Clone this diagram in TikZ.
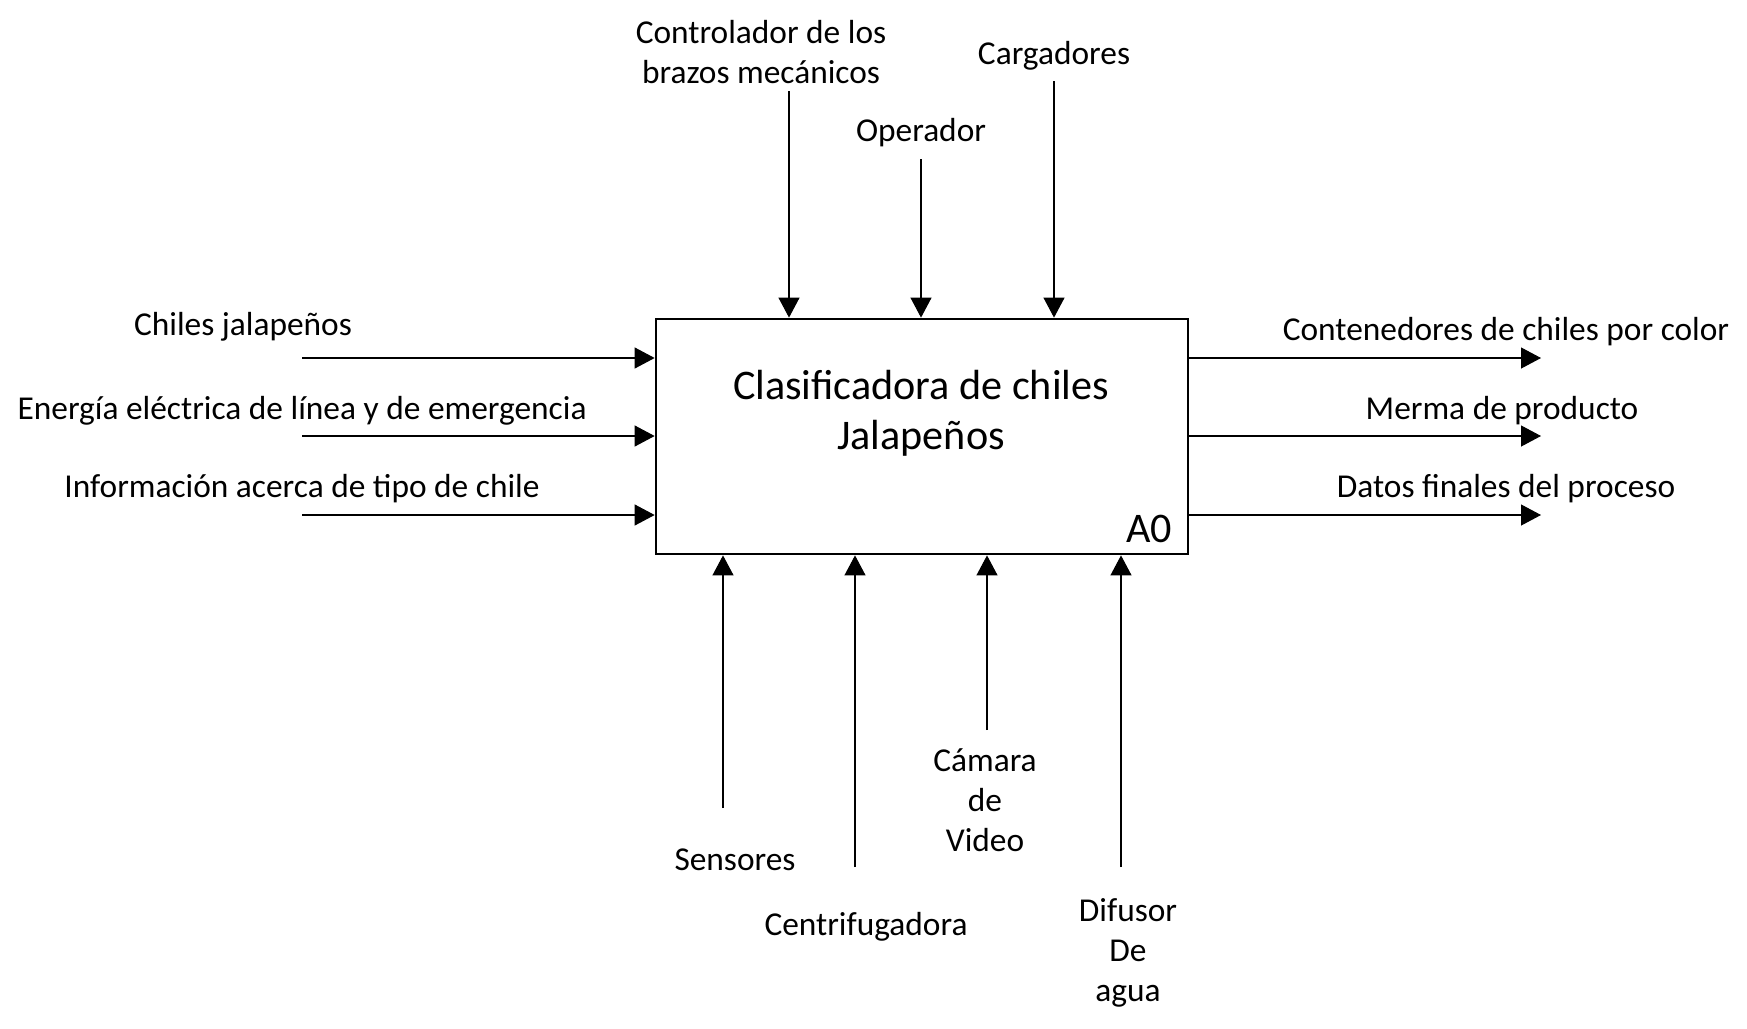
\documentclass[tikz,border=0pt]{standalone}
\usepackage{fontspec}
\setmainfont{Carlito}
\usetikzlibrary{arrows.meta, positioning, calc}

\begin{document}
\begin{tikzpicture}[x=0.02cm, y=-0.02cm,
  func/.style={draw=black, line width=1.6pt, minimum width=10.64cm, minimum height=4.7cm, inner sep=0pt},
  lbl/.style={font=\fontsize{19}{22.7}\selectfont, align=center, inner sep=0pt},
  big/.style={font=\fontsize{24}{28.5}\selectfont, align=center, inner sep=0pt},
  flow/.style={black, line width=0.6pt, -{Triangle[length=0.4cm, width=0.42cm]}}
]
  \useasboundingbox (0,0) rectangle (1747,1028);
  % Function box
  \node[func] (func) at (922,436.5) {};
  \node[big] (title) at (921,413) {Clasificadora de chiles\\Jalape\~nos};
  \node[big] (code) at (1149,529) {A0};
  % Inputs
  \node[lbl] (chiles) at (243,327) {Chiles jalape\~nos};
  \node[lbl] (energia) at (302,411) {Energía eléctrica de línea y de emergencia};
  \node[lbl] (info) at (302,489) {Información acerca de tipo de chile};
  \foreach \n/\y in {in1/358, in2/436, in3/515}{
    \coordinate (\n) at (302,\y);
    \draw[flow] (\n) -- (\n -| func.west);
  }
  % Outputs
  \node[lbl] (contenedores) at (1506,332) {Contenedores de chiles por color};
  \node[lbl] (merma) at (1502,411) {Merma de producto};
  \node[lbl] (datos) at (1506,489) {Datos finales del proceso};
  \foreach \n/\y in {out1/358, out2/436, out3/515}{
    \coordinate (\n) at (1541,\y);
    \draw[flow] (\n -| func.east) -- (\n);
  }
  % Controls
  \node[lbl] (controlador) at (761,52) {Controlador de los\\brazos mecánicos};
  \node[lbl] (operador) at (921,133) {Operador};
  \node[lbl] (cargadores) at (1054,56) {Cargadores};
  \foreach \n/\x/\y in {ctl1/789/91, ctl2/921/159, ctl3/1054/81}{
    \coordinate (\n) at (\x,\y);
    \draw[flow] (\n) -- (\n |- func.north);
  }
  % Mechanisms
  \node[lbl] (sensores) at (735,860) {Sensores};
  \node[lbl] (centrifuga) at (866,927) {Centrifugadora};
  \node[lbl] (camara) at (985,800) {Cámara\\de\\Video};
  \node[lbl] (difusor) at (1128,953) {Difusor\\De\\agua};
  \foreach \n/\x/\y in {mec1/723/808, mec2/855/867, mec3/987/730, mec4/1121/867}{
    \coordinate (\n) at (\x,\y);
    \draw[flow] (\n) -- (\n |- func.south);
  }
\end{tikzpicture}
\end{document}
